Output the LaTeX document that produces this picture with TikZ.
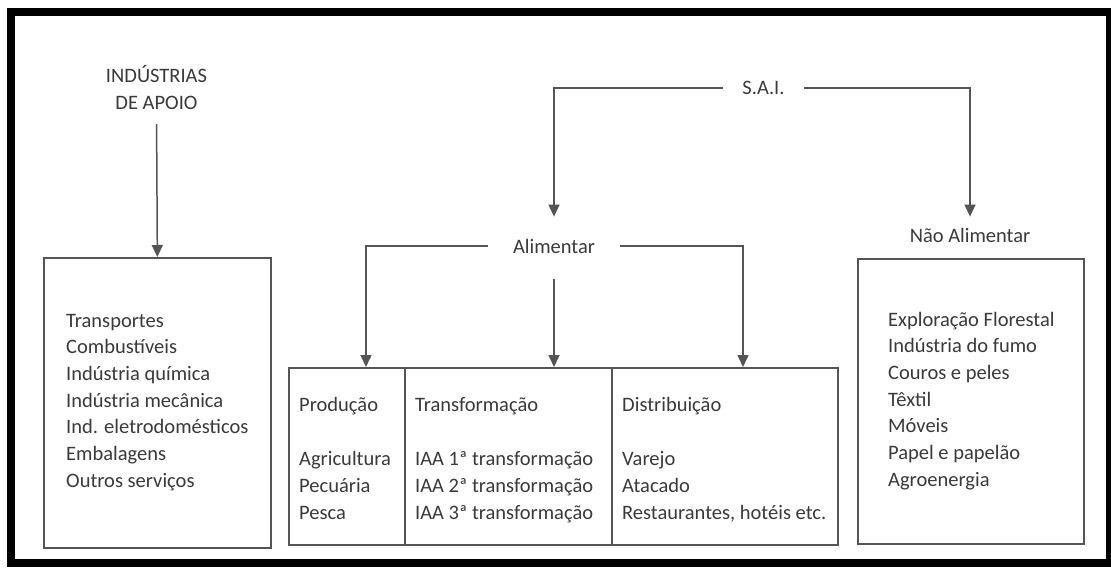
\documentclass[tikz,border=0pt]{standalone}
\usepackage{fontspec}
\setmainfont{Carlito}
\usetikzlibrary{arrows.meta}
\definecolor{ink}{HTML}{3A3A3A}
\definecolor{rule}{HTML}{555555}
\newcommand{\labfont}{\fontsize{20.5}{27}\selectfont}
\begin{document}
\begin{tikzpicture}[x=1pt,y=-1pt,
  lbl/.style={font=\labfont, text=ink, inner sep=0pt},
  item/.style={lbl, anchor=base west},
  wire/.style={draw=rule, line width=1.5pt},
  arr/.style={wire, -{Triangle[width=11pt,length=12pt]}},
  panel/.style={draw=rule, line width=1.7pt, inner sep=0pt, anchor=north west},
]
\useasboundingbox (0,0) rectangle (1111,568);
\fill[white] (0,0) rectangle (1111,568);
% heavy outer frame
\draw[line width=8pt] (11,12) rectangle (1110,563);

% boxes
\node[panel, minimum width=227pt, minimum height=290pt] (apoio) at (43,257) {};
\node[panel, minimum width=116pt, minimum height=177pt] (prod) at (288,367) {};
\node[panel, minimum width=207pt, minimum height=177pt] (transf) at (404,367) {};
\node[panel, minimum width=226pt, minimum height=177pt] (distr) at (611,367) {};
\node[panel, minimum width=226pt, minimum height=285pt] (naoali) at (857,258) {};

% headings
\node[lbl, align=center, anchor=south] (apoiohead) at (156.5,110) {INDÚSTRIAS\\DE APOIO};
\node[lbl, inner xsep=19pt] (sai) at (763.5,88) {S.A.I.};
\node[lbl, inner xsep=25pt] (alim) at (554,246) {Alimentar};
\node[lbl] (nao) at (970,235) {Não Alimentar};

% entry points on the top edge of the food chain box
\coordinate (inProd) at (366,367);
\coordinate (inTransf) at (554,367);
\coordinate (inDistr) at (743,367);

% connectors
\draw[arr, shorten <=14pt] (apoiohead.south) -- (apoio.north);
\draw[arr, shorten >=22pt] (sai.west) -| (alim.north);
\draw[arr, shorten >=11pt] (sai.east) -| (nao.north);
\draw[arr] (alim.west) -| (inProd);
\draw[arr, shorten <=26pt] (alim.south) -- (inTransf);
\draw[arr] (alim.east) -| (inDistr);

% box contents
\foreach \t [count=\i] in {Transportes, Combustíveis, Indústria química, Indústria mecânica, Ind. eletrodomésticos, Embalagens, Outros serviços}
  \node[item] (apoio-\i) at (66,{327+26.7*(\i-1)}) {\t};

\foreach \t [count=\i] in {Exploração Florestal, Indústria do fumo, Couros e peles, Têxtil, Móveis, Papel e papelão, Agroenergia}
  \node[item] (nao-\i) at (888,{326+26.7*(\i-1)}) {\t};

\node[item] (prodhead) at (299,411) {Produção};
\node[item] (transfhead) at (415,411) {Transformação};
\node[item] (distrhead) at (622,411) {Distribuição};

\foreach \t [count=\i] in {Agricultura, Pecuária, Pesca}
  \node[item] (prod-\i) at (299,{465+27*(\i-1)}) {\t};
\foreach \t [count=\i] in {IAA 1ª transformação, IAA 2ª transformação, IAA 3ª transformação}
  \node[item] (transf-\i) at (415,{465+27*(\i-1)}) {\t};
\foreach \t [count=\i] in {Varejo, Atacado, {Restaurantes, hotéis etc.}}
  \node[item] (distr-\i) at (622,{465+27*(\i-1)}) {\t};
\end{tikzpicture}
\end{document}
